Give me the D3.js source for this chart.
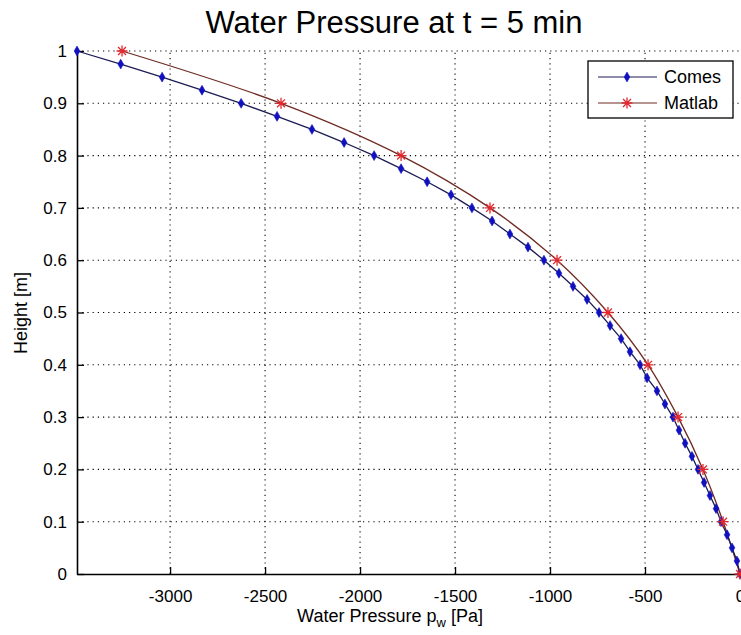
<!DOCTYPE html>
<html>
<head>
<meta charset="utf-8">
<script src="https://cdn.jsdelivr.net/npm/d3@7"></script>
<style>
  body { margin: 0; background: #fff; }
  text { font-family: "Liberation Sans", Arial, sans-serif; fill: #000; }
</style>
</head>
<body>
<div id="chart"></div>
<script>
// Comes solution, every 0.025 m
var comesHeight = [1, 0.975, 0.95, 0.925, 0.9, 0.875, 0.85, 0.825, 0.8, 0.775,
                   0.75, 0.725, 0.7, 0.675, 0.65, 0.625, 0.6, 0.575, 0.55, 0.525,
                   0.5, 0.475, 0.45, 0.425, 0.4, 0.375, 0.35, 0.325, 0.3, 0.275,
                   0.25, 0.225, 0.2, 0.175, 0.15, 0.125, 0.1, 0.075, 0.05, 0.025, 0];
var comesPressure = [-3490, -3260, -3042, -2832, -2626, -2437, -2253, -2084, -1926, -1784,
                     -1647, -1521, -1411, -1305, -1211, -1116, -1032, -953, -879, -805,
                     -742, -684, -626, -579, -526, -489, -437, -395, -353, -321,
                     -289, -253, -221, -189, -158, -126, -100, -68, -42, -16, 0];

// Matlab solution, every 0.1 m
var matlabHeight = [1, 0.9, 0.8, 0.7, 0.6, 0.5, 0.4, 0.3, 0.2, 0.1, 0];
var matlabPressure = [-3253, -2416, -1784, -1316, -963, -695, -484, -326, -195, -89, 0];

var xTicks = [-3000, -2500, -2000, -1500, -1000, -500, 0];
var yTicks = [0, 0.1, 0.2, 0.3, 0.4, 0.5, 0.6, 0.7, 0.8, 0.9, 1];

var W = 741, H = 635;
var svg = d3.select("#chart").append("svg")
    .attr("width", W).attr("height", H);

var x = d3.scaleLinear().domain([-3490, 0]).range([77, 740]);
var y = d3.scaleLinear().domain([0, 1]).range([574, 51]);

// grid
svg.append("g").selectAll("line").data(xTicks.slice(0, -1)).enter().append("line")
   .attr("x1", function(d){ return x(d); }).attr("x2", function(d){ return x(d); })
   .attr("y1", y(0)).attr("y2", y(1))
   .attr("stroke", "#000").attr("stroke-width", 1.1).attr("stroke-dasharray", "1.2,4");
svg.append("g").selectAll("line").data(yTicks.slice(1)).enter().append("line")
   .attr("x1", x(-3490)).attr("x2", 740)
   .attr("y1", function(d){ return y(d); }).attr("y2", function(d){ return y(d); })
   .attr("stroke", "#000").attr("stroke-width", 1.1).attr("stroke-dasharray", "1.2,4");

// axes (ticks inward, like matlab)
var xAxis = svg.append("g")
    .attr("transform", "translate(0," + y(0) + ")")
    .call(d3.axisBottom(x).tickValues(xTicks).tickSizeInner(-7).tickSizeOuter(0).tickPadding(16)
          .tickFormat(function(d){ return String(d); }));
var yAxis = svg.append("g")
    .attr("transform", "translate(" + x(-3490) + ",0)")
    .call(d3.axisLeft(y).tickValues(yTicks).tickSizeInner(-7).tickSizeOuter(0).tickPadding(10)
          .tickFormat(function(d){ return d === 0 || d === 1 ? d : d3.format(".1f")(d); }));
[xAxis, yAxis].forEach(function(a){
  a.select(".domain").attr("stroke", "#000").attr("stroke-width", 1.6);
  a.selectAll(".tick line").attr("stroke", "#000").attr("stroke-width", 1.3);
  a.selectAll(".tick text").style("font-size", "17px").style("font-family", "'Liberation Sans', Arial, sans-serif").attr("fill", "#222");
});
xAxis.selectAll(".tick").filter(function(d){ return d === 0; }).select("line").remove();

// lines
var comes = comesHeight.map(function(h, i){ return {h: h, p: comesPressure[i]}; });
var matlab = matlabHeight.map(function(h, i){ return {h: h, p: matlabPressure[i]}; });

var comesLine = d3.line().x(function(d){ return x(d.p); }).y(function(d){ return y(d.h); });
var matlabLine = d3.line().curve(d3.curveCatmullRom.alpha(0.5))
    .x(function(d){ return x(d.p); }).y(function(d){ return y(d.h); });

var comesColor = "#1c1c55", comesMark = "#1010c0";
var matlabColor = "#6e2a22", matlabMark = "#e0282e";

svg.append("path").datum(matlab).attr("d", matlabLine)
   .attr("fill", "none").attr("stroke", matlabColor).attr("stroke-width", 1.3);
svg.append("path").datum(comes).attr("d", comesLine)
   .attr("fill", "none").attr("stroke", comesColor).attr("stroke-width", 1.3);

var diamond = d3.symbol().type(d3.symbolDiamond).size(28);
function star(r) {
  var s = r * 0.72;
  return "M" + (-r) + ",0L" + r + ",0M0," + (-r) + "L0," + r +
         "M" + (-s) + "," + (-s) + "L" + s + "," + s + "M" + (-s) + "," + s + "L" + s + "," + (-s);
}

svg.append("g").selectAll("path").data(comes).enter().append("path")
   .attr("d", diamond)
   .attr("transform", function(d){ return "translate(" + x(d.p) + "," + y(d.h) + ")"; })
   .attr("fill", comesMark).attr("stroke", comesMark).attr("stroke-width", 0.6);
svg.append("g").selectAll("path").data(matlab).enter().append("path")
   .attr("d", star(5.5))
   .attr("transform", function(d){ return "translate(" + x(d.p) + "," + y(d.h) + ")"; })
   .attr("fill", "none").attr("stroke", matlabMark).attr("stroke-width", 1.3);

// title & labels
svg.append("text").attr("x", 394).attr("y", 33).attr("text-anchor", "middle")
   .style("font-size", "31px").attr("fill", "#111").text("Water Pressure at t = 5 min");

var xl = svg.append("text").attr("x", 390).attr("y", 622).attr("text-anchor", "middle")
   .style("font-size", "18px").attr("fill", "#222");
xl.append("tspan").text("Water Pressure p");
xl.append("tspan").attr("dy", 5).style("font-size", "13px").text("w");
xl.append("tspan").attr("dy", -5).text(" [Pa]");

svg.append("text").attr("transform", "translate(27,313) rotate(-90)")
   .attr("text-anchor", "middle").style("font-size", "18px").attr("fill", "#222").text("Height [m]");

// legend
var lg = svg.append("g").attr("transform", "translate(588,61)");
lg.append("rect").attr("width", 145).attr("height", 57)
  .attr("fill", "#fff").attr("stroke", "#000").attr("stroke-width", 1.3);
var legendItems = [
  {name: "Comes", line: comesColor, mark: comesMark, type: "d"},
  {name: "Matlab", line: matlabColor, mark: matlabMark, type: "s"}
];
legendItems.forEach(function(it, i){
  var cy = 16 + i * 26;
  lg.append("line").attr("x1", 10).attr("x2", 69).attr("y1", cy).attr("y2", cy)
    .attr("stroke", it.line).attr("stroke-width", 1.2);
  if (it.type === "d") {
    lg.append("path").attr("d", diamond).attr("transform", "translate(39," + cy + ")")
      .attr("fill", it.mark).attr("stroke", it.mark).attr("stroke-width", 0.6);
  } else {
    lg.append("path").attr("d", star(5.5)).attr("transform", "translate(39," + cy + ")")
      .attr("fill", "none").attr("stroke", it.mark).attr("stroke-width", 1.3);
  }
  lg.append("text").attr("x", 76).attr("y", cy + 6).style("font-size", "18px").attr("fill", "#222").text(it.name);
});
</script>
</body>
</html>
